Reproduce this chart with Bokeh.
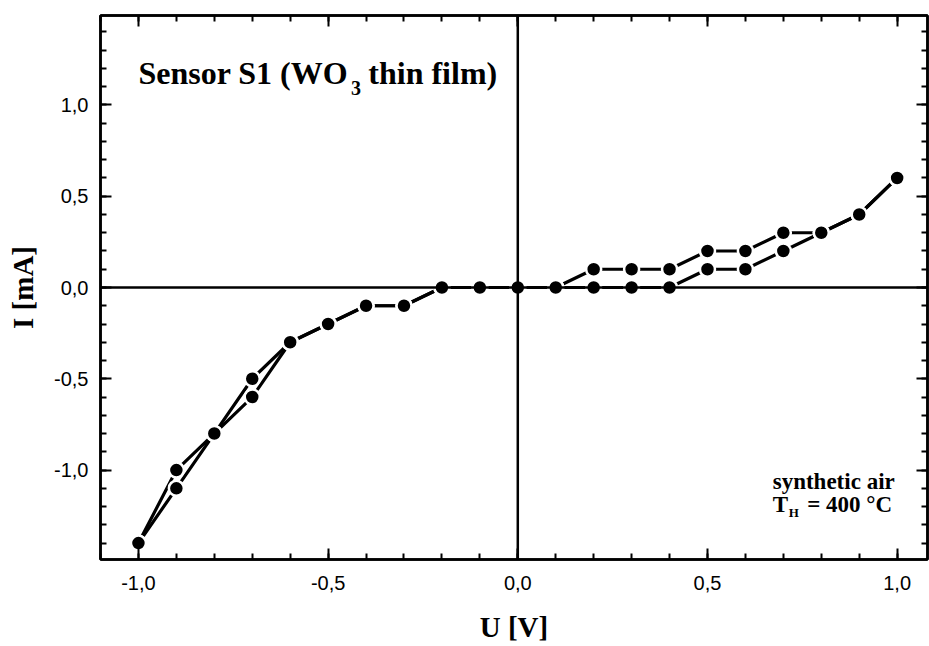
from bokeh.plotting import figure
from bokeh.models import (Range1d, SingleIntervalTicker, LinearAxis, Span, Label,
                          CustomJSTickFormatter, ColumnDataSource)
from bokeh.embed import file_html
from bokeh.resources import INLINE

# ---- data ----
voltage = [-1.0, -0.9, -0.8, -0.7, -0.6, -0.5, -0.4, -0.3, -0.2, -0.1, 0.0,
           0.1, 0.2, 0.3, 0.4, 0.5, 0.6, 0.7, 0.8, 0.9, 1.0]
current_sweep1 = [-1.4, -1.1, -0.8, -0.6, -0.3, -0.2, -0.1, -0.1, 0.0, 0.0, 0.0,
                  0.0, 0.0, 0.0, 0.0, 0.1, 0.1, 0.2, 0.3, 0.4, 0.6]
current_sweep2 = [-1.4, -1.0, -0.8, -0.5, -0.3, -0.2, -0.1, -0.1, 0.0, 0.0, 0.0,
                  0.0, 0.1, 0.1, 0.1, 0.2, 0.2, 0.3, 0.3, 0.4, 0.6]

title_main = "Sensor S1 (WO"
title_sub = "3"
title_rest = "thin film)"
note_line1 = "synthetic air"
note_T = "T"
note_T_sub = "H"
note_T_rest = "= 400 °C"
x_label = "U [V]"
y_label = "I [mA]"

SERIF = "Liberation Serif"
SANS = "Liberation Sans"

p = figure(width=929, height=646, output_backend="svg", toolbar_location=None,
           x_range=Range1d(-1.1, 1.08), y_range=Range1d(-1.49, 1.49),
           min_border_left=100, min_border_right=2, min_border_top=15,
           min_border_bottom=87, background_fill_color="white",
           border_fill_color="white")
p.grid.visible = False
p.outline_line_color = "black"
p.outline_line_width = 2.5
p.outline_line_alpha = 1.0

fmt = CustomJSTickFormatter(code="""
if (Math.abs(tick) < 1e-9) { return '0,0'; }
return tick.toFixed(1).replace('.', ',');
""")
blank = CustomJSTickFormatter(code="return '';")


def style_axis(ax, labels=True):
    ax.ticker = SingleIntervalTicker(interval=0.5, num_minor_ticks=5)
    ax.axis_line_width = 2.5
    ax.axis_line_color = "black"
    ax.major_tick_in = 11
    ax.major_tick_out = 0
    ax.minor_tick_in = 6
    ax.minor_tick_out = 0
    ax.major_tick_line_width = 2
    ax.minor_tick_line_width = 2
    ax.major_tick_line_color = "black"
    ax.minor_tick_line_color = "black"
    if labels:
        ax.formatter = fmt
        ax.major_label_text_font = SANS
        ax.major_label_text_font_size = "20px"
        ax.major_label_text_color = "black"
        ax.axis_label_text_font = SERIF
        ax.axis_label_text_font_style = "bold"
        ax.axis_label_text_font_size = "29px"
        ax.axis_label_text_color = "black"
    else:
        ax.formatter = blank
        ax.major_label_standoff = 0
        ax.major_label_text_font_size = "1px"


style_axis(p.xaxis[0])
style_axis(p.yaxis[0])
p.xaxis[0].axis_label = x_label
p.yaxis[0].axis_label = y_label
p.xaxis[0].major_label_standoff = 16
p.xaxis[0].axis_label_standoff = 18
p.yaxis[0].major_label_standoff = 12
p.yaxis[0].axis_label_standoff = 12

top_ax = LinearAxis()
right_ax = LinearAxis()
style_axis(top_ax, labels=False)
style_axis(right_ax, labels=False)
p.add_layout(top_ax, "above")
p.add_layout(right_ax, "right")

# zero lines
p.add_layout(Span(location=0, dimension="width", line_color="black", line_width=2.5))
p.add_layout(Span(location=0, dimension="height", line_color="black", line_width=2.5))

for ys in (current_sweep1, current_sweep2):
    src = ColumnDataSource(dict(x=voltage, y=ys))
    p.line("x", "y", source=src, line_color="black", line_width=3.2, line_join="round")
for ys in (current_sweep1, current_sweep2):
    src = ColumnDataSource(dict(x=voltage, y=ys))
    p.scatter("x", "y", source=src, marker="circle", size=15,
              fill_color="black", line_color="white", line_width=2.5)

# title text with subscript
p.add_layout(Label(x=-1.0, y=1.175, text=title_main, text_font=SERIF,
                   text_font_style="bold", text_font_size="32px",
                   text_baseline="alphabetic", text_color="black"))
p.add_layout(Label(x=-0.44, y=1.093, text=title_sub, text_font=SERIF,
                   text_font_style="bold", text_font_size="20px",
                   text_baseline="alphabetic", text_color="black"))
p.add_layout(Label(x=-0.394, y=1.175, text=title_rest, text_font=SERIF,
                   text_font_style="bold", text_font_size="32px",
                   text_baseline="alphabetic", text_color="black"))

# annotation
p.add_layout(Label(x=0.672, y=-1.060, text=note_line1, text_font=SERIF,
                   text_font_style="bold", text_font_size="23px",
                   text_baseline="alphabetic", text_color="black"))
p.add_layout(Label(x=0.672, y=-1.191, text=note_T, text_font=SERIF,
                   text_font_style="bold", text_font_size="23px",
                   text_baseline="alphabetic", text_color="black"))
p.add_layout(Label(x=0.714, y=-1.23, text=note_T_sub, text_font=SERIF,
                   text_font_style="bold", text_font_size="13px",
                   text_baseline="alphabetic", text_color="black"))
p.add_layout(Label(x=0.763, y=-1.191, text=note_T_rest, text_font=SERIF,
                   text_font_style="bold", text_font_size="23px",
                   text_baseline="alphabetic", text_color="black"))

open("out.html", "w").write(file_html(p, INLINE))
